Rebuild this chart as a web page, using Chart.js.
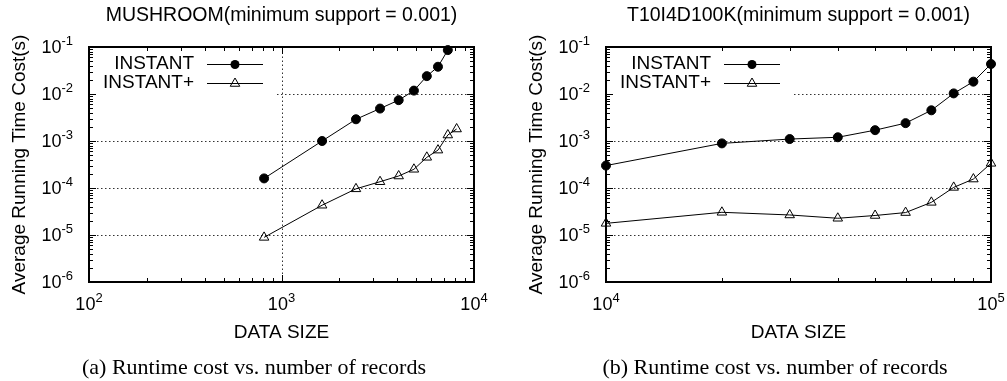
<!DOCTYPE html>
<html>
<head>
<meta charset="utf-8">
<script src="https://cdn.jsdelivr.net/npm/chart.js@4/dist/chart.umd.min.js"></script>
<style>
  html, body { margin: 0; padding: 0; background: #fff; }
  #fig { position: relative; width: 1007px; height: 381px; background: #fff; overflow: hidden; }
  .panel { position: absolute; top: 0; height: 381px; }
  .cap { position: absolute; top: 354px; height: 26px; line-height: 26px; width: 480px; text-align: center;
         font: 22px "Liberation Serif", "Times New Roman", serif; color: #000; white-space: nowrap; }
</style>
</head>
<body>
<div id="fig">
  <div class="panel" style="left:0;width:500px"><canvas id="chart-mushroom"></canvas></div>
  <div class="panel" style="left:500px;width:507px"><canvas id="chart-t10"></canvas></div>
  <div class="cap" style="left:14px">(a) Runtime cost vs. number of records</div>
  <div class="cap" style="left:535px">(b) Runtime cost vs. number of records</div>
</div>
<script>
// ---- data ----
const seriesNames = ['INSTANT', 'INSTANT+'];
const yTickExps = [-6, -5, -4, -3, -2, -1];
const mushroomTickExps = [2, 3, 4];
const t10TickExps = [4, 5];

const mushroomSizes = [812, 1625, 2437, 3250, 4062, 4874, 5687, 6499, 7312, 8124];
const mushroomInstant = [1.6e-4, 1.0e-3, 2.9e-3, 4.9e-3, 7.4e-3, 1.18e-2, 2.4e-2, 3.8e-2, 8.6e-2];
const mushroomInstantPlus = [8.9e-6, 4.3e-5, 9.6e-5, 1.36e-4, 1.8e-4, 2.5e-4, 4.5e-4, 6.4e-4, 1.34e-3, 1.8e-3];

const t10Sizes = [10000, 20000, 30000, 40000, 50000, 60000, 70000, 80000, 90000, 100000];
const t10Instant = [3.0e-4, 8.9e-4, 1.1e-3, 1.2e-3, 1.7e-3, 2.4e-3, 4.5e-3, 1.03e-2, 1.83e-2, 4.35e-2];
const t10InstantPlus = [1.77e-5, 3.04e-5, 2.67e-5, 2.27e-5, 2.6e-5, 3.0e-5, 4.95e-5, 1.03e-4, 1.55e-4, 3.35e-4];

const SANS = '"Liberation Sans", Arial, sans-serif';

const pts = (xs, ys) => ys.map((v, i) => ({ x: xs[i], y: v }));

// gnuplot-ish frame: dotted decade grid, key box, inward mirrored ticks, 10^n labels, key
function drawMarker(ctx, style, r, x, y) {
  ctx.beginPath();
  if (style === 'triangle') {
    ctx.moveTo(x, y - r);
    ctx.lineTo(x + 0.866 * r, y + 0.5 * r);
    ctx.lineTo(x - 0.866 * r, y + 0.5 * r);
    ctx.closePath();
    ctx.stroke();
  } else {
    ctx.arc(x, y, r, 0, Math.PI * 2);
    ctx.fill();
  }
}

const gnuFrame = {
  id: 'gnuFrame',
  beforeDatasetsDraw(chart, args, o) {
    const { ctx, chartArea: a, scales: { x, y } } = chart;
    ctx.save();
    ctx.strokeStyle = '#333'; ctx.lineWidth = 1; ctx.setLineDash([1.5, 2.5]);
    o.xExps.forEach(e => {
      const px = Math.round(x.getPixelForValue(Math.pow(10, e))) + 0.5;
      if (px < a.left + 3 || px > a.right - 3) return;
      ctx.beginPath(); ctx.moveTo(px, a.bottom); ctx.lineTo(px, a.top); ctx.stroke();
    });
    o.yExps.forEach(e => {
      const py = Math.round(y.getPixelForValue(Math.pow(10, e))) + 0.5;
      if (py < a.top + 3 || py > a.bottom - 3) return;
      ctx.beginPath(); ctx.moveTo(a.left, py); ctx.lineTo(a.right, py); ctx.stroke();
    });
    ctx.setLineDash([]);
    // key box hides the grid behind it
    ctx.fillStyle = '#fff';
    ctx.fillRect(a.left + 1, a.top + 1, 185, 53);
    ctx.restore();
  },
  afterDatasetsDraw(chart, args, o) {
    const { ctx, chartArea: a, scales: { x, y } } = chart;
    ctx.save();
    ctx.strokeStyle = '#000'; ctx.fillStyle = '#000';
    // ticks (major 7px, minor 4px), drawn inward on all four sides
    ctx.lineWidth = 1;
    const tickLoop = (scale, fn) => {
      const d0 = Math.floor(Math.log10(scale.min)), d1 = Math.ceil(Math.log10(scale.max));
      for (let d = d0; d <= d1; d++) for (let m = 1; m <= 9; m++) {
        const v = m * Math.pow(10, d);
        if (v < scale.min * 0.999 || v > scale.max * 1.001) continue;
        fn(scale.getPixelForValue(v), m === 1 ? 7 : 4);
      }
    };
    ctx.beginPath();
    tickLoop(y, (p, len) => {
      const py = Math.round(p) + 0.5;
      ctx.moveTo(a.left, py); ctx.lineTo(a.left + len, py);
      ctx.moveTo(a.right, py); ctx.lineTo(a.right - len, py);
    });
    tickLoop(x, (p, len) => {
      const px = Math.round(p) + 0.5;
      ctx.moveTo(px, a.bottom); ctx.lineTo(px, a.bottom - len);
      ctx.moveTo(px, a.top); ctx.lineTo(px, a.top + len);
    });
    ctx.stroke();
    // frame
    ctx.lineWidth = 2;
    ctx.strokeRect(a.left, a.top, a.right - a.left, a.bottom - a.top);

    // tick labels 10^n
    const big = '18px ' + SANS, small = '13px ' + SANS;
    ctx.textBaseline = 'middle'; ctx.textAlign = 'left';
    o.yExps.forEach(e => {
      const py = y.getPixelForValue(Math.pow(10, e));
      ctx.font = big; const w10 = ctx.measureText('10').width;
      ctx.font = small; const ws = ctx.measureText(String(e)).width;
      const x0 = a.left - 16 - ws - w10;
      ctx.font = big; ctx.fillText('10', x0, py + 1);
      ctx.font = small; ctx.fillText(String(e), x0 + w10, py - 6);
    });
    o.xExps.forEach(e => {
      const px = x.getPixelForValue(Math.pow(10, e));
      ctx.font = big; const w10 = ctx.measureText('10').width;
      ctx.font = small; const ws = ctx.measureText(String(e)).width;
      const x0 = px - (w10 + ws) / 2;
      ctx.font = big; ctx.fillText('10', x0, a.bottom + 23);
      ctx.font = small; ctx.fillText(String(e), x0 + w10, a.bottom + 16);
    });

    // key
    ctx.font = '19px ' + SANS; ctx.textAlign = 'right';
    chart.data.datasets.forEach((ds, i) => {
      const ky = a.top + 17 + 19 * i;
      ctx.fillText(ds.label, a.left + 105, ky);
      ctx.lineWidth = 1;
      ctx.beginPath(); ctx.moveTo(a.left + 118, ky + 0.5); ctx.lineTo(a.left + 174, ky + 0.5); ctx.stroke();
      ctx.fillStyle = '#000';
      drawMarker(ctx, ds.pointStyle, ds.pointRadius, a.left + 146, ky + 0.5);
    });
    ctx.restore();
  }
};

function makeChart(id, title, xs, instant, instantPlus, xMin, xMax, xExps, padL, padR) {
  return new Chart(document.getElementById(id).getContext('2d'), {
    type: 'line',
    data: { datasets: [
      { label: seriesNames[0], data: pts(xs, instant), borderColor: '#000', borderWidth: 1, tension: 0, clip: false,
        pointStyle: 'circle', pointRadius: 4.5, pointBackgroundColor: '#000', pointBorderColor: '#000', pointBorderWidth: 1 },
      { label: seriesNames[1], data: pts(xs, instantPlus), borderColor: '#000', borderWidth: 1, tension: 0, clip: false,
        pointStyle: 'triangle', pointRadius: 5.5, pointBackgroundColor: 'rgba(0,0,0,0)', pointBorderColor: '#000', pointBorderWidth: 1 },
    ] },
    options: {
      responsive: true, maintainAspectRatio: false, animation: false, devicePixelRatio: 1,
      layout: { padding: { left: padL, right: padR, top: 0, bottom: 37 } },
      plugins: {
        legend: { display: false },
        tooltip: { enabled: false },
        title: { display: true, text: title, fullSize: false, color: '#000',
          font: { family: SANS, size: 19.5, weight: 'normal' }, padding: { top: 4.3, bottom: 19.3 } },
        gnuFrame: { xExps, yExps: yTickExps },
      },
      scales: {
        x: { type: 'logarithmic', min: xMin, max: xMax,
          grid: { display: false }, border: { display: false }, ticks: { display: false },
          title: { display: true, text: 'DATA SIZE', color: '#000', font: { family: SANS, size: 19 }, padding: { top: 0, bottom: 0 } },
          afterFit: s => { s.height = 62; } },
        y: { type: 'logarithmic', min: 1e-6, max: 1e-1,
          grid: { display: false }, border: { display: false }, ticks: { display: false },
          title: { display: true, text: 'Average Running Time Cost(s)', color: '#000', font: { family: SANS, size: 19 }, padding: { top: 8.6, bottom: 0 } },
          afterFit: s => { s.width = 89; } },
      },
    },
    plugins: [gnuFrame],
  });
}

makeChart('chart-mushroom', 'MUSHROOM(minimum support = 0.001)', mushroomSizes, mushroomInstant, mushroomInstantPlus,
  100, 10000, mushroomTickExps, 0, 26);
makeChart('chart-t10', 'T10I4D100K(minimum support = 0.001)', t10Sizes, t10Instant, t10InstantPlus,
  10000, 100000, t10TickExps, 17, 16);
</script>
</body>
</html>
